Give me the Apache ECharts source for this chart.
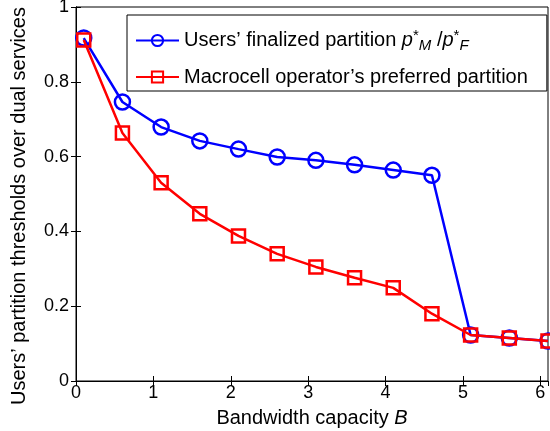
<!DOCTYPE html>
<html>
<head>
<meta charset="utf-8">
<script src="https://cdn.jsdelivr.net/npm/echarts@6/dist/echarts.min.js"></script>
<style>
  html, body { margin: 0; padding: 0; background: #fff; }
  #main { width: 550px; height: 431px; }
</style>
</head>
<body>
<div id="main"></div>
<script>
var bandwidth = [0.1, 0.6, 1.1, 1.6, 2.1, 2.6, 3.1, 3.6, 4.1, 4.6, 5.1, 5.6, 6.1];
var usersFinal = [0.917, 0.746, 0.679, 0.642, 0.620, 0.599, 0.590, 0.578, 0.564, 0.550, 0.123, 0.115, 0.107];
var operatorPref = [0.912, 0.663, 0.530, 0.447, 0.388, 0.340, 0.305, 0.276, 0.249, 0.180, 0.123, 0.115, 0.107];

var font = 'Liberation Sans, Arial, sans-serif';

function pairs(xs, ys) {
    var out = [];
    for (var i = 0; i < xs.length; i++) out.push([xs[i], ys[i]]);
    return out;
}

var myChart = echarts.init(document.getElementById('main'));

var option = {
    animation: false,
    backgroundColor: '#fff',
    textStyle: { fontFamily: font },
    grid: {
        left: 76, right: 2, top: 7, bottom: 50,
        outerBoundsMode: 'none', containLabel: false,
        show: true, borderColor: '#000', borderWidth: 1
    },
    legend: {
        orient: 'vertical',
        left: 127, top: 15,
        backgroundColor: '#fff',
        borderColor: '#000', borderWidth: 1,
        padding: [13, 19, 4, 8],
        itemGap: 14,
        itemWidth: 43, itemHeight: 14,
        textStyle: {
            fontFamily: font, fontSize: 20, color: '#000',
            rich: {
                it: { fontFamily: font, fontStyle: 'italic', fontSize: 20, color: '#000' },
                sub: { fontFamily: font, fontStyle: 'italic', fontSize: 15, color: '#000', verticalAlign: 'bottom', padding: [10, 0, 0, 0] },
                sup: { fontFamily: font, fontSize: 15, color: '#000', verticalAlign: 'top', padding: [0, 0, 8, 0] }
            }
        },
        formatter: function (name) {
            if (name === 'users') return 'Users\u2019 finalized partition {it|p}{sup|*}{sub|M} /{it|p}{sup|*}{sub|F}';
            return 'Macrocell operator\u2019s preferred partition';
        },
        data: ['users', 'operator']
    },
    xAxis: [{
        type: 'value', min: 0, max: 6.1, interval: 1,
        name: 'Bandwidth capacity {it|B}',
        nameLocation: 'middle', nameGap: 27,
        nameTextStyle: {
            fontFamily: font, fontSize: 20, color: '#000',
            rich: { it: { fontFamily: font, fontStyle: 'italic', fontSize: 20, color: '#000' } }
        },
        axisLine: { lineStyle: { color: '#000', width: 1 } },
        axisTick: { inside: true, length: 5, lineStyle: { color: '#000' } },
        axisLabel: { fontFamily: font, fontSize: 18, color: '#000', margin: 3, showMaxLabel: false },
        splitLine: { show: false }
    }, {
        type: 'value', min: 0, max: 6.1, interval: 1, position: 'top',
        axisLine: { lineStyle: { color: '#000' } },
        axisTick: { inside: true, length: 5, lineStyle: { color: '#000' } },
        axisLabel: { show: false },
        splitLine: { show: false }
    }],
    yAxis: [{
        type: 'value', min: 0, max: 1, interval: 0.2,
        name: 'Users\u2019 partition thresholds over dual services',
        nameLocation: 'middle', nameGap: 47,
        nameTextStyle: { fontFamily: font, fontSize: 20, color: '#000', padding: [0, 24, 0, 0] },
        axisLine: { show: true, lineStyle: { color: '#000', width: 1 } },
        axisTick: { show: true, inside: true, length: 5, lineStyle: { color: '#000' } },
        axisLabel: {
            fontFamily: font, fontSize: 18, color: '#000', margin: 7,
            formatter: function (v) { return String(Math.round(v * 10) / 10); }
        },
        splitLine: { show: false }
    }, {
        type: 'value', min: 0, max: 1, interval: 0.2, position: 'right',
        axisLine: { show: true, lineStyle: { color: '#000' } },
        axisTick: { show: true, inside: true, length: 5, lineStyle: { color: '#000' } },
        axisLabel: { show: false },
        splitLine: { show: false }
    }],
    series: [{
        name: 'users',
        type: 'line',
        data: pairs(bandwidth, usersFinal),
        symbol: 'circle', symbolSize: 15,
        lineStyle: { color: '#0000ff', width: 2.5 },
        itemStyle: { color: 'rgba(255,255,255,0)', borderColor: '#0000ff', borderWidth: 2.5 },
        z: 2
    }, {
        name: 'operator',
        type: 'line',
        data: pairs(bandwidth, operatorPref),
        symbol: 'rect', symbolSize: 13,
        lineStyle: { color: '#ff0000', width: 2.5 },
        itemStyle: { color: 'rgba(255,255,255,0)', borderColor: '#ff0000', borderWidth: 2.5 },
        z: 3
    }]
};

myChart.setOption(option);
</script>
</body>
</html>
